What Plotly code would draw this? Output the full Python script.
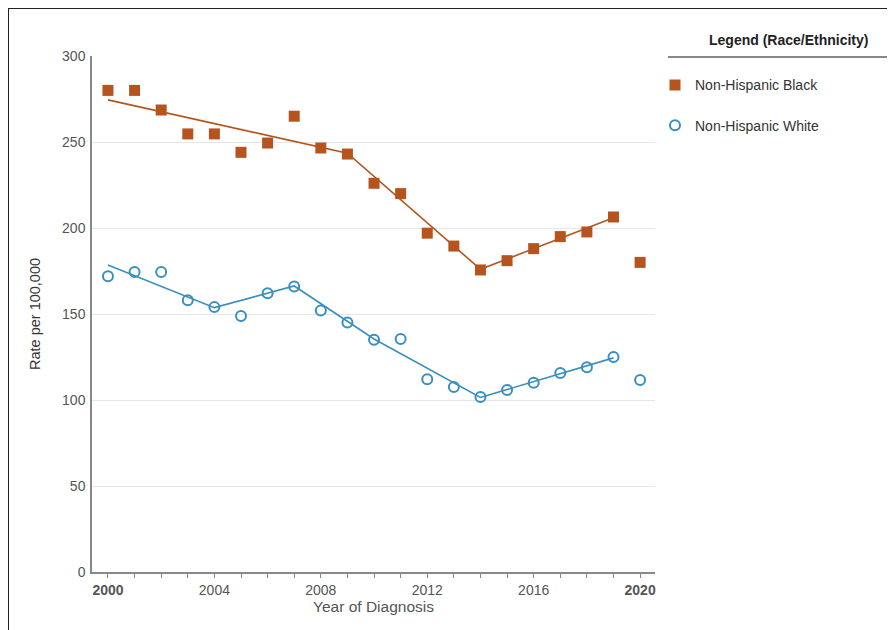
import plotly.graph_objects as go

years = list(range(2000, 2021))

black_rates = [280, 280, 268.6, 254.7, 254.7, 244, 249.4, 265, 246.5, 243, 226, 220,
               197, 189.5, 175.6, 181, 188, 195, 197.7, 206.4, 180]
white_rates = [172, 174.4, 174.4, 158, 154, 148.8, 162, 166, 152, 145, 135, 135.5,
               112, 107.5, 101.7, 105.8, 110, 115.7, 119, 125, 111.6]

black_trend_years = [2000, 2009, 2014, 2019]
black_trend_vals = [274.5, 243.5, 176, 206]
white_trend_years = [2000, 2004, 2007, 2010, 2014, 2019]
white_trend_vals = [178.5, 153.7, 166.3, 135.5, 101.5, 124.5]

x_tick_vals = years
x_tick_text = ["<b>2000</b>", "", "", "", "2004", "", "", "", "2008", "", "", "",
               "2012", "", "", "", "2016", "", "", "", "<b>2020</b>"]
y_tick_vals = [0, 50, 100, 150, 200, 250, 300]

BLACK_COLOR = "#B5541F"
WHITE_COLOR = "#3A8FBE"
FONT = "Liberation Sans, Arial, sans-serif"

fig = go.Figure()

fig.add_trace(go.Scatter(
    x=black_trend_years, y=black_trend_vals, mode="lines",
    line=dict(color=BLACK_COLOR, width=1.6), showlegend=False, hoverinfo="skip"))
fig.add_trace(go.Scatter(
    x=white_trend_years, y=white_trend_vals, mode="lines",
    line=dict(color=WHITE_COLOR, width=1.6), showlegend=False, hoverinfo="skip"))

fig.add_trace(go.Scatter(
    x=years, y=black_rates, mode="markers", name="Non-Hispanic Black",
    legendgroup="b",
    marker=dict(symbol="square", size=11, color=BLACK_COLOR)))
fig.add_trace(go.Scatter(
    x=years, y=white_rates, mode="markers", name="Non-Hispanic White",
    legendgroup="w",
    marker=dict(symbol="circle-open", size=10, color=WHITE_COLOR,
                line=dict(width=2, color=WHITE_COLOR))))

fig.update_layout(
    width=895, height=630,
    margin=dict(l=84, r=248, t=48, b=66),
    paper_bgcolor="white", plot_bgcolor="white",
    font=dict(family=FONT, size=14, color="#555"),
    showlegend=True,
    legend=dict(x=1.0, xanchor="left", y=0.974, yanchor="top",
                font=dict(size=14, color="#333"),
                tracegroupgap=19, traceorder="grouped",
                bgcolor="rgba(0,0,0,0)"),
    xaxis=dict(range=[1999.4, 2020.56], tickmode="array",
               tickvals=x_tick_vals, ticktext=x_tick_text,
               ticks="outside", ticklen=4, tickcolor="#888", tickwidth=1,
               showline=True, linecolor="#888", linewidth=1.5,
               showgrid=False, zeroline=False,
               tickfont=dict(size=14, color="#555"),
               title=dict(text="Year of Diagnosis", font=dict(size=15.5, color="#555"),
                          standoff=4)),
    yaxis=dict(range=[0, 300], tickmode="array", tickvals=y_tick_vals,
               showline=True, linecolor="#888", linewidth=1.5,
               showgrid=True, gridcolor="#e6e6e6", gridwidth=1,
               zeroline=False, ticks="", ticklabelstandoff=2,
               tickfont=dict(size=14, color="#555"),
               title=dict(text="Rate per 100,000", font=dict(size=14.5, color="#333"),
                          standoff=18)),
)

# legend title and separator line
fig.add_annotation(text="<b>Legend (Race/Ethnicity)</b>", xref="paper", yref="paper",
                   x=(788 - 92) / 563, y=(572 - 40) / 516, xanchor="center", yanchor="middle",
                   showarrow=False, font=dict(size=14, color="#222", family=FONT))
fig.add_shape(type="line", xref="paper", yref="paper",
              x0=(668 - 92) / 563, x1=(892 - 92) / 563,
              y0=(572 - 57) / 516, y1=(572 - 57) / 516,
              line=dict(color="#888", width=2))

# outer frame (left and top edges visible)
fig.add_shape(type="rect", xref="paper", yref="paper",
              x0=(8 - 92) / 563, x1=1.7, y0=(572 - 8) / 516, y1=-0.3,
              line=dict(color="#222", width=2), layer="above")

fig.write_html("out.html")
